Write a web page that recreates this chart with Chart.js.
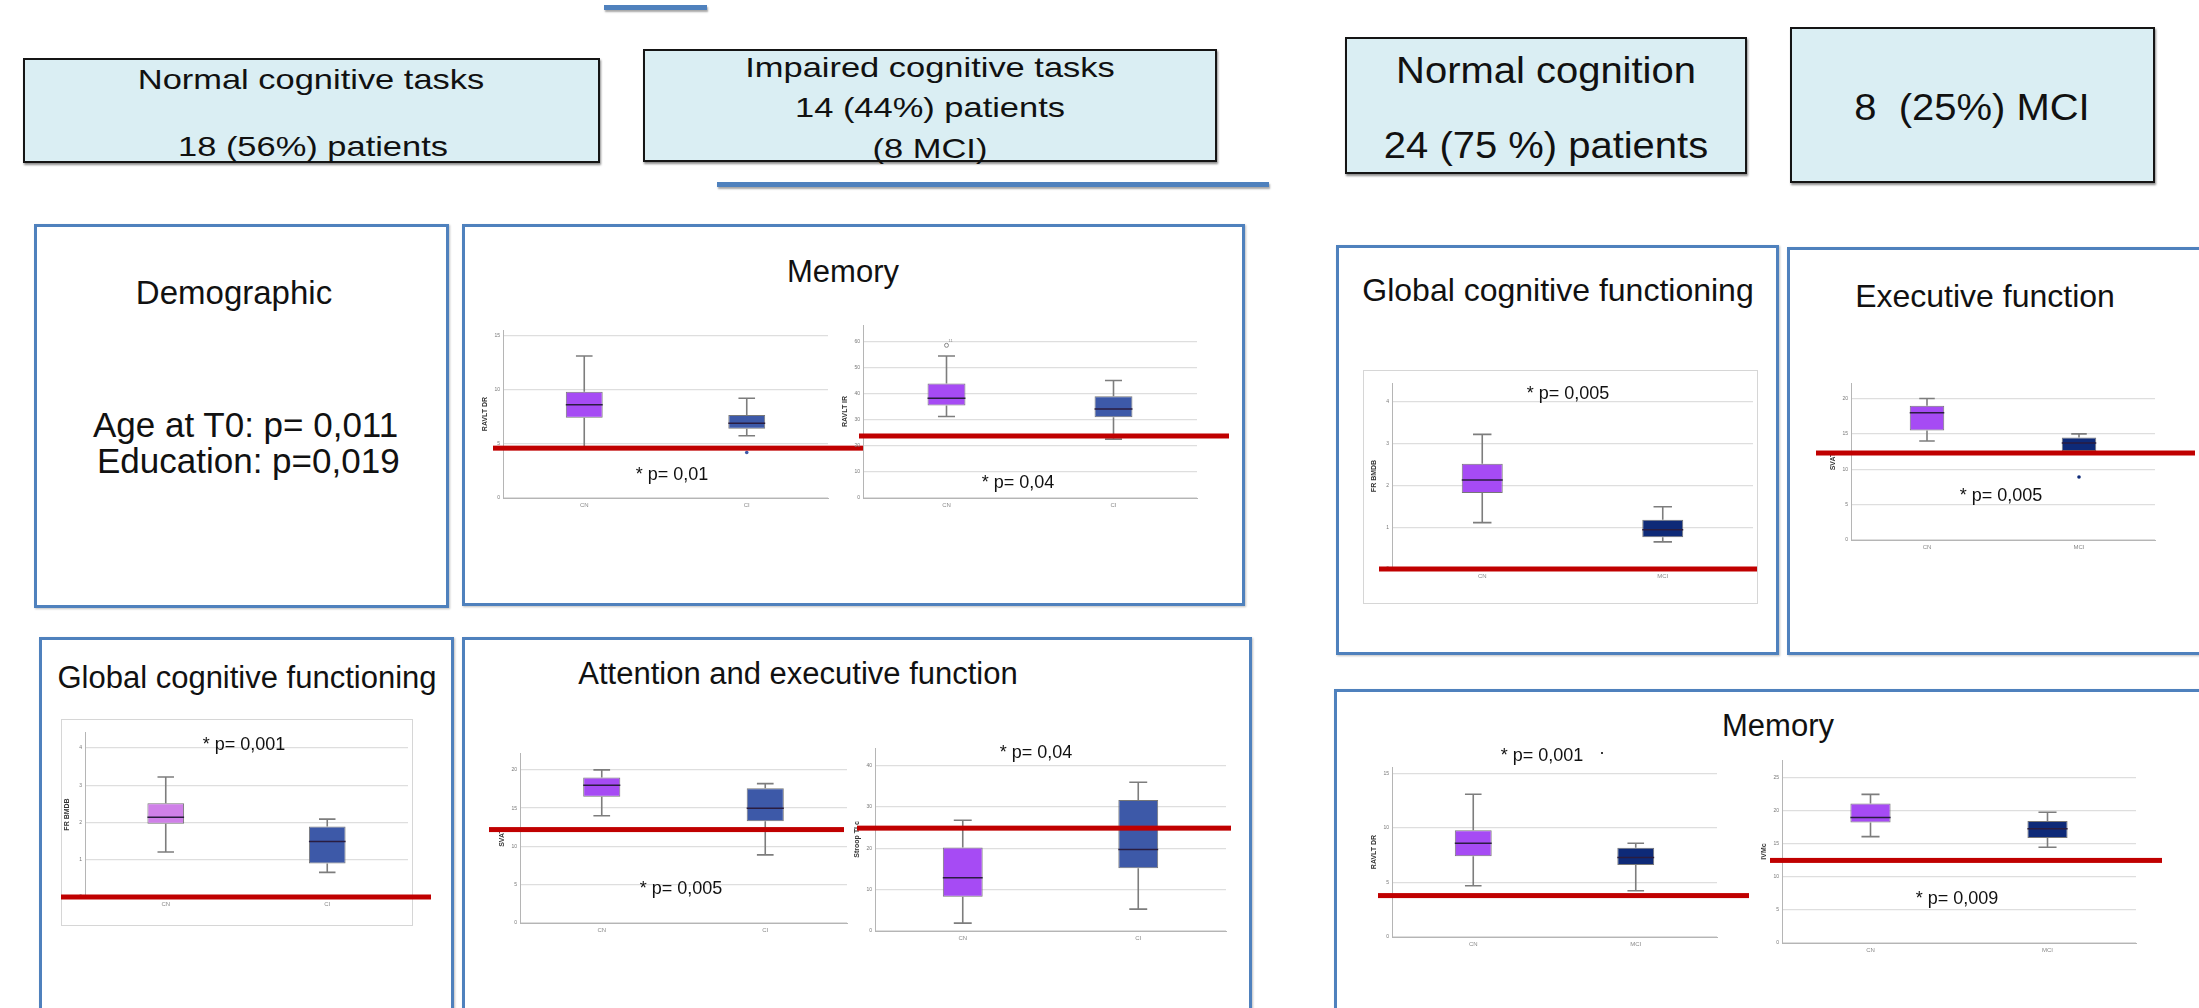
<!DOCTYPE html>
<html lang="en">
  <head>
    <meta charset="UTF-8" />
    <title>Cognitive tasks - box plots</title>
    <script src="https://cdn.jsdelivr.net/npm/chart.js"></script>
    <style>
      html, body { margin: 0; padding: 0; }
      body {
        width: 2199px; height: 1008px; overflow: hidden; position: relative;
        background: #fff; font-family: "Liberation Sans", Arial, sans-serif; color: #111;
      }
      .bar { position: absolute; background: #4f81bd; box-shadow: 1px 2px 2px rgba(0,0,0,0.35); }
      .tbox { position: absolute; background: #daeef3; border: 2px solid #151515; box-sizing: border-box;
              box-shadow: 1px 2px 2px rgba(0,0,0,0.45); }
      .panel { position: absolute; border: 3px solid #4f81bd; box-sizing: border-box; background: #fff;
               box-shadow: 1px 1px 2px rgba(0,0,0,0.25); }
      .frame { position: absolute; border: 1px solid #d6d6d6; box-sizing: border-box; }
      .t { position: absolute; white-space: pre; line-height: 1; transform: translate(-50%, -50%); }
      .big { font-size: 28px; transform: translate(-50%, -50%) scaleX(1.23); }
      .big2 { font-size: 37px; transform: translate(-50%, -50%) scaleX(1.08); }
      .title { font-size: 31px; }
      .title2 { font-size: 32px; }
      .pval { font-size: 18px; }
      .left { transform: translate(0, -50%); font-size: 35px; }
      canvas { position: absolute; }
    </style>
  </head>
  <body>
    <!-- connector lines -->
    <div class="bar" style="left:604px;top:5px;width:103px;height:5px"></div>
    <div class="bar" style="left:717px;top:182px;width:552px;height:5px"></div>

    <!-- header boxes -->
    <div class="tbox" style="left:23px;top:58px;width:577px;height:105px"></div>
    <div class="tbox" style="left:643px;top:49px;width:574px;height:113px"></div>
    <div class="tbox" style="left:1345px;top:37px;width:402px;height:137px"></div>
    <div class="tbox" style="left:1790px;top:27px;width:365px;height:156px"></div>

    <div class="t big" style="left:311px;top:80px">Normal cognitive tasks</div>
    <div class="t big" style="left:313px;top:147px">18 (56%) patients</div>
    <div class="t big" style="left:930px;top:68px">Impaired cognitive tasks</div>
    <div class="t big" style="left:930px;top:108px">14 (44%) patients</div>
    <div class="t big" style="left:930px;top:149px">(8 MCI)</div>
    <div class="t big2" style="left:1546px;top:70px">Normal cognition</div>
    <div class="t big2" style="left:1546px;top:145px">24 (75 %) patients</div>
    <div class="t big2" style="left:1972px;top:107px">8  (25%) MCI</div>

    <!-- panels -->
    <div class="panel" style="left:34px;top:224px;width:415px;height:384px"></div>
    <div class="panel" style="left:462px;top:224px;width:783px;height:382px"></div>
    <div class="panel" style="left:39px;top:637px;width:415px;height:400px"></div>
    <div class="panel" style="left:462px;top:637px;width:790px;height:400px"></div>
    <div class="panel" style="left:1336px;top:245px;width:443px;height:410px"></div>
    <div class="panel" style="left:1787px;top:247px;width:430px;height:408px"></div>
    <div class="panel" style="left:1334px;top:689px;width:880px;height:360px"></div>

    <div class="frame" style="left:61px;top:719px;width:352px;height:207px"></div>
    <div class="frame" style="left:1363px;top:370px;width:395px;height:234px"></div>

    <div class="t title" style="left:234px;top:292px;font-size:33px">Demographic</div>
    <div class="t left" style="left:93px;top:424px">Age at T0: p= 0,011</div>
    <div class="t left" style="left:97px;top:460px">Education: p=0,019</div>
    <div class="t title" style="left:843px;top:271px">Memory</div>
    <div class="t title" style="left:247px;top:677px">Global cognitive functioning</div>
    <div class="t title" style="left:798px;top:673px">Attention and executive function</div>
    <div class="t title2" style="left:1558px;top:290px">Global cognitive functioning</div>
    <div class="t title2" style="left:1985px;top:296px">Executive function</div>
    <div class="t title" style="left:1778px;top:725px">Memory</div>

    <div id="charts"></div>

    <div class="t pval" style="left:672px;top:474px">* p= 0,01</div>
    <div class="t pval" style="left:1018px;top:482px">* p= 0,04</div>
    <div class="t pval" style="left:244px;top:744px">* p= 0,001</div>
    <div class="t pval" style="left:681px;top:888px">* p= 0,005</div>
    <div class="t pval" style="left:1036px;top:752px">* p= 0,04</div>
    <div class="t pval" style="left:1568px;top:393px">* p= 0,005</div>
    <div class="t pval" style="left:2001px;top:495px">* p= 0,005</div>
    <div class="t pval" style="left:1542px;top:755px">* p= 0,001</div>
    <div class="t pval" style="left:1602px;top:752px">·</div>
    <div class="t pval" style="left:1957px;top:898px">* p= 0,009</div>

    <script>
      // groups on the x axis
      const groupsCI = ["CN", "CI"];
      const groupsMCI = ["CN", "MCI"];

      // box stats: min, q1, median, q3, max
      const memDrCN = [4.7, 7.4, 8.6, 9.8, 13.1];
      const memDrCI = [5.75, 6.4, 6.9, 7.65, 9.2];
      const memIrCN = [31.3, 35.5, 38.3, 43.9, 54.5];
      const memIrCI = [22.6, 31.0, 34.2, 39.1, 45.1];
      const globCN = [1.21, 1.97, 2.14, 2.52, 3.22];
      const globCI = [0.66, 0.9, 1.49, 1.89, 2.09];
      const svatCN = [14.0, 16.5, 18.0, 19.0, 20.0];
      const svatCI = [8.9, 13.3, 15.0, 17.6, 18.2];
      const stroopCN = [1.9, 8.3, 12.9, 20.2, 26.8];
      const stroopCI = [5.3, 15.2, 19.7, 31.7, 36.0];
      const globMciCN = [1.11, 1.82, 2.13, 2.52, 3.22];
      const globMciMCI = [0.65, 0.76, 0.94, 1.18, 1.49];
      const execCN = [14.0, 15.5, 18.0, 19.0, 20.0];
      const execMCI = [12.3, 12.6, 13.7, 14.5, 15.0];
      const drMciCN = [4.7, 7.4, 8.6, 9.8, 13.1];
      const drMciMCI = [4.25, 6.6, 7.3, 8.2, 8.6];
      const ivmCN = [16.1, 18.25, 19.0, 21.1, 22.5];
      const ivmMCI = [14.5, 15.9, 17.3, 18.45, 19.8];

      // outliers
      const memDrCIOut = [4.2];
      const memIrCNOut = [58.6];
      const memIrCNOutLabel = ["11"];
      const execMCIOut = [8.9];

      // cut-off (red) lines, chart order A..I
      const cutoffs = [4.6, 23.8, 0, 12.2, 24.9, 0, 12.3, 3.8, 12.5];

      const purple = "#a64bf4";
      const lilac = "#cf80e8";
      const blue = "#3d59a8";
      const navy = "#0e2a78";

      const specs = [
        { title: "RAVLT DR", labels: groupsCI, stats: [memDrCN, memDrCI], colors: [purple, blue],
          out: [[], memDrCIOut], max: 15.5, step: 5, plot: [503, 330, 828, 498], red: [493, 863] },
        { title: "RAVLT IR", labels: groupsCI, stats: [memIrCN, memIrCI], colors: [purple, blue],
          out: [memIrCNOut, []], outLabel: [memIrCNOutLabel, []], hollow: true,
          max: 66.4, step: 10, plot: [863, 325, 1197, 498], red: [859, 1229] },
        { title: "FR BMDB", labels: groupsCI, stats: [globCN, globCI], colors: [lilac, blue],
          out: [[], []], max: 4.43, step: 1, plot: [85, 732, 408, 897], red: [61, 431] },
        { title: "SVAT", labels: groupsCI, stats: [svatCN, svatCI], colors: [purple, blue],
          out: [[], []], max: 22.2, step: 5, plot: [520, 753, 847, 923], red: [489, 844] },
        { title: "Stroop TI c", labels: groupsCI, stats: [stroopCN, stroopCI], colors: [purple, blue],
          out: [[], []], max: 44.3, step: 10, plot: [875, 748, 1226, 931], red: [857, 1231] },
        { title: "FR BMDB", labels: groupsMCI, stats: [globMciCN, globMciMCI], colors: [purple, navy],
          out: [[], []], max: 4.45, step: 1, plot: [1392, 383, 1753, 569], red: [1379, 1757] },
        { title: "SVAT", labels: groupsMCI, stats: [execCN, execMCI], colors: [purple, navy],
          out: [[], execMCIOut], max: 22.2, step: 5, plot: [1851, 383, 2155, 540], red: [1816, 2195] },
        { title: "RAVLT DR", labels: groupsMCI, stats: [drMciCN, drMciMCI], colors: [purple, navy],
          out: [[], []], max: 15.6, step: 5, plot: [1392, 767, 1717, 937], red: [1378, 1749] },
        { title: "IVMc", labels: groupsMCI, stats: [ivmCN, ivmMCI], colors: [purple, navy],
          out: [[], []], max: 27.7, step: 5, plot: [1782, 760, 2136, 943], red: [1770, 2162] },
      ];

      const Y_W = 22;
      const X_H = 16;

      // whiskers, medians, outliers and the red cut-off line
      const boxExtras = {
        id: "boxExtras",
        afterDatasetsDraw(chart, args, o) {
          const ctx = chart.ctx;
          const x = chart.scales.x;
          const y = chart.scales.y;
          const bars = chart.getDatasetMeta(0).data;
          ctx.save();
          o.stats.forEach((s, i) => {
            const cx = x.getPixelForValue(i);
            const half = bars[i].width / 2;
            const cap = half * 0.45;
            ctx.strokeStyle = "#7d7d7d";
            ctx.lineWidth = 1.6;
            ctx.beginPath();
            ctx.moveTo(cx, y.getPixelForValue(s[0]));
            ctx.lineTo(cx, y.getPixelForValue(s[1]));
            ctx.moveTo(cx, y.getPixelForValue(s[3]));
            ctx.lineTo(cx, y.getPixelForValue(s[4]));
            ctx.moveTo(cx - cap, y.getPixelForValue(s[0]));
            ctx.lineTo(cx + cap, y.getPixelForValue(s[0]));
            ctx.moveTo(cx - cap, y.getPixelForValue(s[4]));
            ctx.lineTo(cx + cap, y.getPixelForValue(s[4]));
            ctx.stroke();
            ctx.strokeStyle = "#2a1d40";
            ctx.lineWidth = 1.5;
            ctx.beginPath();
            ctx.moveTo(cx - half, y.getPixelForValue(s[2]));
            ctx.lineTo(cx + half, y.getPixelForValue(s[2]));
            ctx.stroke();

            (o.out[i] || []).forEach((v, k) => {
              const py = y.getPixelForValue(v);
              ctx.beginPath();
              if (o.hollow) {
                ctx.strokeStyle = "#888";
                ctx.lineWidth = 1;
                ctx.arc(cx, py, 2, 0, Math.PI * 2);
                ctx.stroke();
              } else {
                ctx.fillStyle = o.colors[i];
                ctx.arc(cx, py, 1.8, 0, Math.PI * 2);
                ctx.fill();
              }
              if (o.outLabel && o.outLabel[i][k]) {
                ctx.fillStyle = "#888";
                ctx.font = "4px 'Liberation Sans', Arial";
                ctx.fillText(o.outLabel[i][k], cx + 2, py - 3);
              }
            });
          });
          // red cut-off line
          const ry = y.getPixelForValue(o.cut);
          ctx.fillStyle = "#c00000";
          ctx.fillRect(o.red[0] - o.left, ry - 2.5, o.red[1] - o.red[0], 5);
          ctx.restore();
        },
      };

      function drawBox(spec, cut) {
        const [pl, pt, pr, pb] = spec.plot;
        const left = Math.min(spec.red[0], pl - Y_W) - 2;
        const right = Math.max(spec.red[1], pr) + 2;
        const top = pt - 6;
        const bottom = pb + X_H;
        const canvas = document.createElement("canvas");
        canvas.width = right - left;
        canvas.height = bottom - top;
        canvas.style.left = left + "px";
        canvas.style.top = top + "px";
        document.getElementById("charts").appendChild(canvas);

        new Chart(canvas.getContext("2d"), {
          type: "bar",
          data: {
            labels: spec.labels,
            datasets: [
              {
                data: spec.stats.map((s) => [s[1], s[3]]),
                backgroundColor: spec.colors,
                borderColor: "#777",
                borderWidth: 1,
                borderSkipped: false,
                barPercentage: 0.227,
                categoryPercentage: 1,
              },
            ],
          },
          options: {
            responsive: false,
            animation: false,
            devicePixelRatio: 1,
            layout: {
              padding: { left: pl - Y_W - left, right: right - pr, top: pt - top, bottom: 0 },
            },
            plugins: {
              legend: { display: false },
              tooltip: { enabled: false },
              boxExtras: {
                stats: spec.stats, colors: spec.colors, out: spec.out, outLabel: spec.outLabel,
                hollow: spec.hollow, cut: cut, red: spec.red, left: left,
              },
            },
            scales: {
              x: {
                grid: { display: false, drawTicks: false },
                border: { color: "#b5b5b5", width: 1 },
                ticks: { color: "#888", font: { size: 6 }, padding: 4 },
                afterFit: (s) => { s.height = X_H; },
              },
              y: {
                min: 0,
                max: spec.max,
                grid: { color: "#dedede", lineWidth: 1.3, drawTicks: false },
                border: { color: "#b5b5b5", width: 1 },
                ticks: { stepSize: spec.step, includeBounds: false, color: "#777", font: { size: 5 }, padding: 3 },
                title: { display: true, text: spec.title, color: "#333", font: { size: 7, weight: "bold" }, padding: 0 },
                afterFit: (s) => { s.width = Y_W; },
              },
            },
          },
          plugins: [boxExtras],
        });
      }

      specs.forEach((s, i) => drawBox(s, cutoffs[i]));
    </script>
  </body>
</html>
